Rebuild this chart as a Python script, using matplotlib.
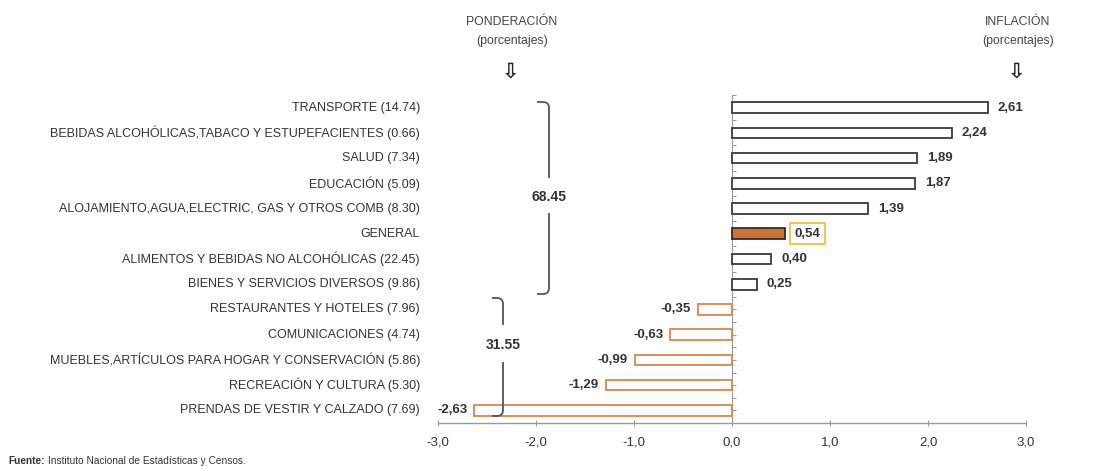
import matplotlib.pyplot as plt
from matplotlib.transforms import blended_transform_factory
from matplotlib.path import Path
from matplotlib.patches import PathPatch

plt.rcParams['font.family'] = ['Liberation Sans', 'DejaVu Sans']

categories = [
    "TRANSPORTE (14.74)",
    "BEBIDAS ALCOHÓLICAS,TABACO Y ESTUPEFACIENTES (0.66)",
    "SALUD (7.34)",
    "EDUCACIÓN (5.09)",
    "ALOJAMIENTO,AGUA,ELECTRIC, GAS Y OTROS COMB (8.30)",
    "GENERAL",
    "ALIMENTOS Y BEBIDAS NO ALCOHÓLICAS (22.45)",
    "BIENES Y SERVICIOS DIVERSOS (9.86)",
    "RESTAURANTES Y HOTELES (7.96)",
    "COMUNICACIONES (4.74)",
    "MUEBLES,ARTÍCULOS PARA HOGAR Y CONSERVACIÓN (5.86)",
    "RECREACIÓN Y CULTURA (5.30)",
    "PRENDAS DE VESTIR Y CALZADO (7.69)",
]
inflation = [2.61, 2.24, 1.89, 1.87, 1.39, 0.54, 0.40, 0.25,
             -0.35, -0.63, -0.99, -1.29, -2.63]
weight_groups = ["68.45", "31.55"]
xticks = [-3.0, -2.0, -1.0, 0.0, 1.0, 2.0, 3.0]
xtick_labels = ["-3,0", "-2,0", "-1,0", "0,0", "1,0", "2,0", "3,0"]

W, H = 1119, 470
fig = plt.figure(figsize=(W / 100, H / 100), dpi=100)
ax = fig.add_axes([438 / W, 1 - 423 / H, (1026 - 438) / W, (423 - 95) / H])

text_col = "#333333"
pos_edge = "#3a3a3a"
neg_edge = "#d9874f"
general_fill = "#c8733a"

y = list(range(len(categories)))
for i, (cat, v) in enumerate(zip(categories, inflation)):
    if cat == "GENERAL":
        fc, ec = general_fill, "#3a2a20"
    elif v >= 0:
        fc, ec = "white", pos_edge
    else:
        fc, ec = "white", neg_edge
    ax.barh(i, v, height=0.42, color=fc, edgecolor=ec, linewidth=1.3, zorder=3)
    lab = f"{v:.2f}".replace(".", ",")
    if v >= 0:
        t = ax.text(v + 0.1, i, lab, ha="left", va="center", fontsize=9.5,
                    fontweight="bold", color=text_col)
        if cat == "GENERAL":
            t.set_bbox(dict(boxstyle="square,pad=0.35", fc="white",
                            ec="#f0c040", lw=1.3))
    else:
        ax.text(v - 0.07, i, lab, ha="right", va="center", fontsize=9.5,
                fontweight="bold", color=text_col)

ax.set_xlim(-3, 3)
ax.set_ylim(len(categories) - 0.5, -0.5)

for s in ["top", "right"]:
    ax.spines[s].set_visible(False)
ax.spines["left"].set_position(("data", 0))
ax.spines["left"].set_color("#9a9a9a")
ax.spines["bottom"].set_color("#9a9a9a")
ax.spines["left"].set_linewidth(0.8)
ax.spines["bottom"].set_linewidth(1.0)

ax.set_yticks([i - 0.5 for i in range(len(categories) + 1)] + y)
ax.set_yticklabels([])
ax.tick_params(axis="y", direction="in", length=3, color="#9a9a9a", width=0.7)
ax.set_xticks(xticks)
ax.set_xticklabels(xtick_labels, fontsize=9.5, color=text_col)
ax.tick_params(axis="x", direction="inout", length=5, color="#9a9a9a", pad=7)

# category labels, right-aligned at a fixed figure x
tr = blended_transform_factory(fig.transFigure, ax.transData)
for i, cat in enumerate(categories):
    ax.text(420 / W, i, cat, transform=tr, ha="right", va="center",
            fontsize=9.0, color=text_col)

# brackets grouping the weights
ftr = fig.transFigure


def bracket(x, x_hook, y_top, y_bot, gap_top, gap_bot, label, ly):
    def P(px, py):
        return (px / W, 1 - py / H)
    r = 6
    seg1 = [P(x_hook, y_top), P(x - r, y_top), P(x, y_top), P(x, y_top + r), P(x, gap_top)]
    codes1 = [Path.MOVETO, Path.LINETO, Path.CURVE3, Path.CURVE3, Path.LINETO]
    seg2 = [P(x, gap_bot), P(x, y_bot - r), P(x, y_bot), P(x - r, y_bot), P(x_hook, y_bot)]
    codes2 = [Path.MOVETO, Path.LINETO, Path.CURVE3, Path.CURVE3, Path.LINETO]
    for verts, codes in ((seg1, codes1), (seg2, codes2)):
        fig.patches.append(PathPatch(Path(verts, codes), transform=ftr, fill=False,
                                     ec="#555555", lw=1.3))
    fig.text(x / W, 1 - ly / H, label, ha="center", va="center", fontsize=10,
             fontweight="bold", color=text_col)


bracket(549, 537, 102, 294, 178, 213, weight_groups[0], 197)
bracket(503, 492, 298, 416, 325, 362, weight_groups[1], 345)

# column headers
for cx, title in ((512, "PONDERACIÓN"), (1018, "INFLACIÓN")):
    fig.text(cx / W, 1 - 22 / H, title, ha="center", va="center", fontsize=8.8,
             color="#444444")
    fig.text(cx / W, 1 - 41 / H, "(porcentajes)", ha="center", va="center",
             fontsize=8.8, color="#444444")
    fig.text((cx - 1) / W, 1 - 71 / H, "⇩", ha="center", va="center", fontsize=15,
             color="#222222", family="DejaVu Sans", fontweight="bold")

fig.text(8 / W, 1 - 461 / H, "Fuente:", ha="left", va="center", fontsize=7.3,
         fontweight="bold", color=text_col)
fig.text(48 / W, 1 - 461 / H, "Instituto Nacional de Estadísticas y Censos.",
         ha="left", va="center", fontsize=7.3, color=text_col)

fig.savefig("out.png", dpi=100, facecolor="white")
